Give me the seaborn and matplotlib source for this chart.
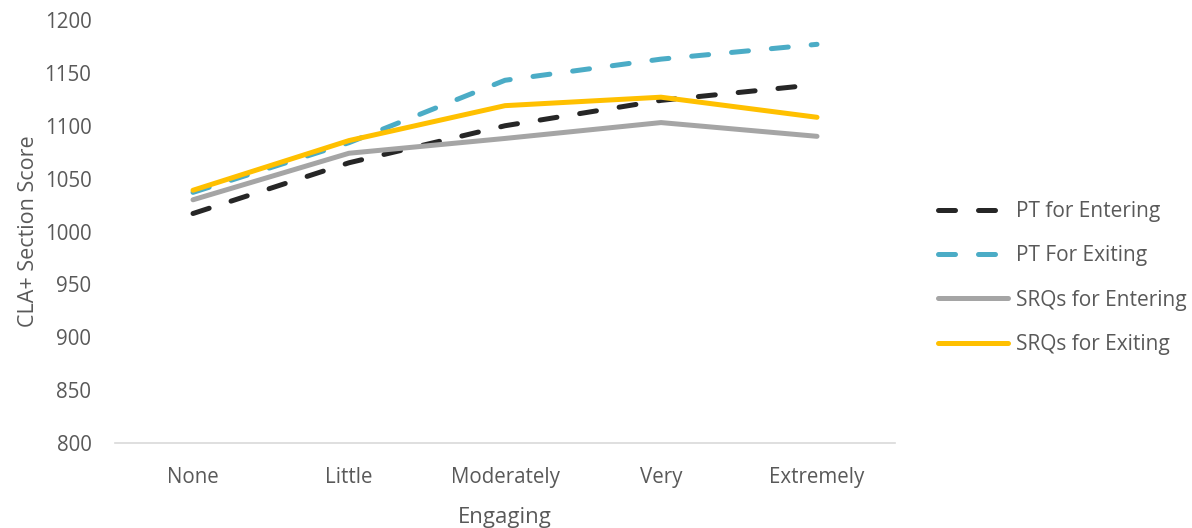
import matplotlib
matplotlib.use("Agg")
import matplotlib.pyplot as plt
import seaborn as sns
import pandas as pd

categories = ["None", "Little", "Moderately", "Very", "Extremely"]
pt_entering = [1017, 1065, 1100, 1124, 1139]
pt_exiting = [1037, 1084, 1143, 1163, 1177]
srq_entering = [1030, 1074, 1088, 1103, 1090]
srq_exiting = [1039, 1086, 1119, 1127, 1108]
series_names = ["PT for Entering", "PT For Exiting", "SRQs for Entering", "SRQs for Exiting"]
y_ticks = [800, 850, 900, 950, 1000, 1050, 1100, 1150, 1200]

sns.set_theme(style="white")
plt.rcParams["font.family"] = ["Open Sans", "DejaVu Sans"]

text_color = "#595959"
colors = ["#262626", "#4BACC6", "#A5A5A5", "#FFC000"]
dashed = [True, True, False, False]
series = [pt_entering, pt_exiting, srq_entering, srq_exiting]

fig = plt.figure(figsize=(11.92, 5.28), dpi=100)
ax = fig.add_axes([115/1192, 1-443/528, 780/1192, 423/528])

for name, vals, col, d in zip(series_names, series, colors, dashed):
    df = pd.DataFrame({"Engaging": categories, "Score": vals})
    sns.lineplot(data=df, x="Engaging", y="Score", ax=ax, color=col, lw=3.6,
                 label=name, sort=False)
    line = ax.get_lines()[-1]
    if d:
        line.set_dashes((3.4, 4.6))
        line.set_dash_capstyle("round")
    else:
        line.set_solid_capstyle("round")

ax.set_xlim(-0.5, 4.5)
ax.set_ylim(800, 1200)
ax.set_yticks(y_ticks)
ax.set_xticks(range(len(categories)))
ax.set_xticklabels(categories)

for s in ["top", "right", "left"]:
    ax.spines[s].set_visible(False)
ax.spines["bottom"].set_color("#D9D9D9")
ax.spines["bottom"].set_linewidth(1.2)
ax.grid(False)
ax.tick_params(axis="both", length=0, labelsize=14.8, colors=text_color)
ax.tick_params(axis="y", pad=17)
ax.tick_params(axis="x", pad=17)

ax.set_xlabel("Engaging", fontsize=16, color=text_color, labelpad=14)
ax.set_ylabel("CLA+ Section Score", fontsize=15.5, color=text_color, labelpad=4)

handles, labels = ax.get_legend_handles_labels()
leg = ax.legend(handles, labels, loc="center left",
                bbox_to_anchor=(938/1192, 1-278/528), bbox_transform=fig.transFigure,
                frameon=False, fontsize=15, handlelength=3.35, handletextpad=0.4,
                labelspacing=1.12, borderaxespad=0, borderpad=0)
for t in leg.get_texts():
    t.set_color(text_color)

fig.savefig("out.png", dpi=100, facecolor="white")
